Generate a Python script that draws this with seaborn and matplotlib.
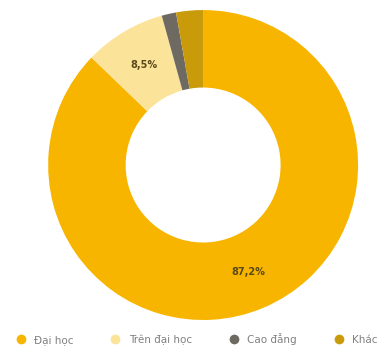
import matplotlib
matplotlib.use("Agg")
import matplotlib.pyplot as plt
import seaborn as sns
import numpy as np
from matplotlib.lines import Line2D

# Education level shares (%)
categories = ['Đại học', 'Trên đại học', 'Cao đẳng', 'Khác']
values = [87.2, 8.5, 1.5, 2.8]
labels_shown = ['87,2%', '8,5%', '', '']
colors = ['#F7B500', '#FBE39A', '#6E6A62', '#C99A0A']

sns.set_style('white')
plt.rcParams['font.family'] = ['DejaVu Sans']

fig = plt.figure(figsize=(3.88, 3.53), dpi=100)
ax = fig.add_axes([0.124, 0.0935, 0.799, 0.878])

wedges, _ = ax.pie(values, colors=colors, startangle=90, counterclock=False,
                   radius=1.0, wedgeprops=dict(width=0.5, edgecolor='none'))

# percentage labels in the middle of the ring
cum = np.cumsum([0] + values[:-1])
for start, v, lab in zip(cum, values, labels_shown):
    if not lab:
        continue
    ang = np.deg2rad(90 - (start + v / 2) * 3.6)
    r = 0.75
    ax.text(r * np.cos(ang), r * np.sin(ang), lab, ha='center', va='center',
            fontsize=7, fontweight='bold', color='#5A4A1A')

ax.set_xlim(-1, 1)
ax.set_ylim(-1, 1)
ax.set_aspect('equal')
ax.axis('off')

handles = [Line2D([0], [0], marker='o', linestyle='', markersize=7,
                  markerfacecolor=c, markeredgecolor='none') for c in colors]
leg = fig.legend(handles, categories, loc='center', bbox_to_anchor=(0.5, 0.04),
                 ncol=4, frameon=False, fontsize=7.5, handletextpad=0.3,
                 columnspacing=3.0)
for t in leg.get_texts():
    t.set_color('#808080')

fig.savefig('out.png', dpi=100)
